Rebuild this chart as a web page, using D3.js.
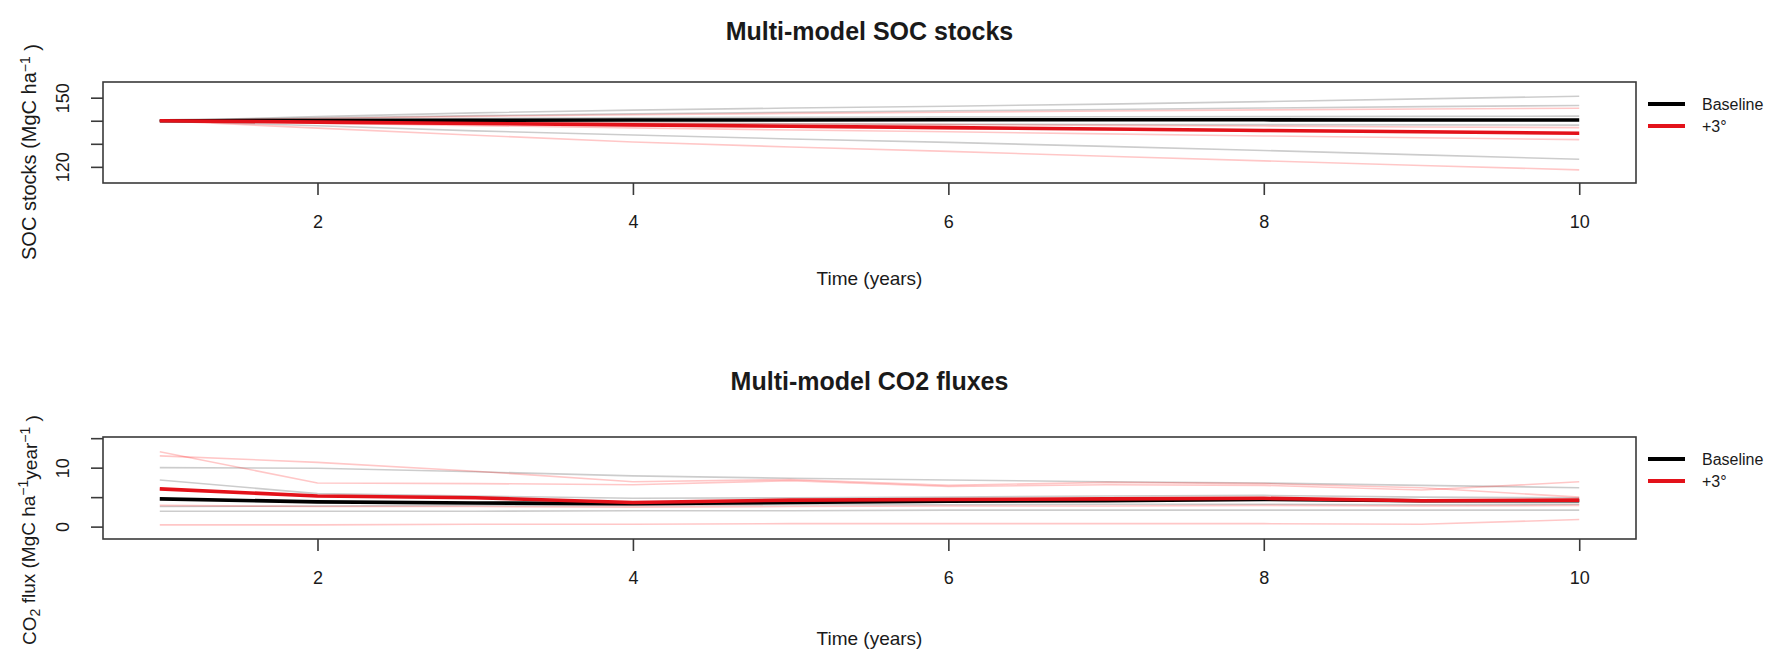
<!DOCTYPE html>
<html>
<head>
<meta charset="utf-8">
<script src="https://cdn.jsdelivr.net/npm/d3@7"></script>
<style>
body{margin:0;background:#fff}
text{font-family:"Liberation Sans",Arial,Helvetica,sans-serif;fill:#1a1a1a}
</style>
</head>
<body>
<svg id="chart" width="1773" height="652"></svg>
<script>
// years on the x axis
var years = [1,2,3,4,5,6,7,8,9,10];
var xTicks = [2,4,6,8,10];

// SOC stocks (MgC/ha), one row per model
var socTicks = [120,130,140,150];
var socTickLabels = ['120','','','150'];
var socBase1 = [140,141.8,143.4,144.6,145.5,146.3,147.2,148.3,149.5,150.6];
var socBase2 = [140,141.2,142.2,143.0,143.7,144.3,144.9,145.5,146.1,146.6];
var socBase3 = [140,140.6,141.0,141.3,141.5,141.6,141.7,141.8,141.9,142.0];
var socBase4 = [140,139.6,139.2,138.9,138.7,138.5,138.4,138.3,138.2,138.1];
var socBase5 = [140,137.8,135.6,133.8,132.1,130.6,128.9,127.1,125.2,123.3];
var socBaseMean = [140,140.1,140.2,140.3,140.3,140.4,140.4,140.4,140.3,140.3];
var socWarm1 = [140,141.0,141.9,142.6,143.2,143.7,144.2,144.7,145.1,145.4];
var socWarm2 = [140,139.7,139.3,139.0,138.6,138.3,138.0,137.7,137.3,137.0];
var socWarm3 = [140,138.9,137.9,136.9,136.0,135.2,134.3,133.4,132.6,131.8];
var socWarm4 = [140,136.8,133.7,130.8,128.6,126.7,124.6,122.6,120.6,118.7];
var socWarm5 = [140,139.3,138.6,137.9,137.2,136.6,136.0,135.4,134.9,134.4];
var socWarmMean = [140,139.4,138.8,138.2,137.6,137.0,136.4,135.8,135.2,134.6];

// CO2 fluxes (MgC/ha/year)
var co2Ticks = [0,5,10,15];
var co2TickLabels = ['0','','10',''];
var co2Base1 = [10.0,9.9,9.3,8.6,8.2,7.9,7.6,7.4,7.0,6.6];
var co2Base2 = [7.9,5.6,5.2,4.8,4.9,5.0,5.2,5.3,5.0,4.9];
var co2Base3 = [3.4,3.5,3.6,3.6,3.7,3.7,3.8,3.8,3.7,3.8];
var co2Base4 = [2.6,2.6,2.6,2.7,2.7,2.8,2.8,2.8,2.8,2.8];
var co2BaseMean = [4.7,4.2,4.0,3.9,4.1,4.3,4.4,4.6,4.4,4.4];
var co2Warm1 = [12.7,7.4,7.3,7.1,7.8,6.8,7.1,7.0,6.2,7.6];
var co2Warm2 = [12.0,10.9,9.4,7.6,8.0,7.0,7.5,7.3,6.6,5.0];
var co2Warm3 = [6.4,5.1,4.8,4.0,4.4,4.5,4.6,4.8,4.3,4.4];
var co2Warm4 = [3.6,3.4,3.4,3.3,3.4,3.5,3.5,3.6,3.5,3.6];
var co2Warm5 = [0.3,0.3,0.4,0.4,0.5,0.5,0.5,0.5,0.4,1.2];
var co2WarmMean = [6.4,5.2,4.9,4.1,4.5,4.6,4.7,4.8,4.4,4.5];

var legendNames = ['Baseline','+3°'];

var svg = d3.select('#chart');
var left = 103, right = 1636;
var x = d3.scaleLinear().domain([0.64,10.36]).range([left,right]);

function panel(o){
	var y = d3.scaleLinear().domain(o.domain).range([o.bottom,o.top]);
	var g = svg.append('g');
	var line = d3.line().x(function(d,i){return x(years[i])}).y(function(d){return y(d)});

	g.selectAll('path.base').data(o.base).enter().append('path')
		.attr('d',line).attr('fill','none')
		.attr('stroke','rgba(0,0,0,0.2)').attr('stroke-width',1.6);
	g.selectAll('path.warm').data(o.warm).enter().append('path')
		.attr('d',line).attr('fill','none')
		.attr('stroke','rgba(255,0,0,0.22)').attr('stroke-width',1.6);
	g.append('path').attr('d',line(o.baseMean)).attr('fill','none')
		.attr('stroke','#000').attr('stroke-width',3.6);
	g.append('path').attr('d',line(o.warmMean)).attr('fill','none')
		.attr('stroke','#e3121a').attr('stroke-width',3.6);

	// box
	g.append('rect').attr('x',left).attr('y',o.top)
		.attr('width',right-left).attr('height',o.bottom-o.top)
		.attr('fill','none').attr('stroke','#3a3a3a').attr('stroke-width',1.6);

	var xa = g.append('g').attr('transform','translate(0,'+o.bottom+')')
		.call(d3.axisBottom(x).tickValues(xTicks).tickSize(12).tickSizeOuter(0).tickPadding(20));
	xa.select('.domain').remove();
	xa.selectAll('line').attr('stroke','#3a3a3a').attr('stroke-width',1.6);
	xa.selectAll('text').style('font-size','18px').attr('fill','#1a1a1a');

	var ya = g.append('g').attr('transform','translate('+left+',0)')
		.call(d3.axisLeft(y).tickValues(o.ticks).tickSize(12).tickSizeOuter(0)
			.tickFormat(function(d,i){return o.tickLabels[i]}));
	ya.select('.domain').remove();
	ya.selectAll('line').attr('stroke','#3a3a3a').attr('stroke-width',1.6);
	ya.selectAll('text').attr('x',null).attr('dy',null)
		.attr('text-anchor','middle')
		.attr('transform',function(d){return 'translate(-40,0) rotate(-90)'})
		.attr('dy','0.35em')
		.style('font-size','18px').attr('fill','#1a1a1a');

	svg.append('text').attr('x',(left+right)/2).attr('y',o.titleY)
		.attr('text-anchor','middle').style('font-size','25px').style('font-weight','bold')
		.text(o.title);
	svg.append('text').attr('x',(left+right)/2).attr('y',o.xlabY)
		.attr('text-anchor','middle').style('font-size','19px')
		.text('Time (years)');

	var yl = svg.append('text').attr('transform','translate(36,'+o.ylabY+') rotate(-90)')
		.attr('text-anchor','middle').style('font-size',o.ylabSize);
	o.ylab.forEach(function(p){
		var t = yl.append('tspan').text(p[0]);
		if (p[1]=='sup') t.attr('dy','-0.45em').style('font-size','14px');
		if (p[1]=='sub') t.attr('dy','0.3em').style('font-size','14px');
		if (p[1]=='back-sup') t.attr('dy','0.45em');
		if (p[1]=='back-sub') t.attr('dy','-0.3em');
	});

	// legend outside the box
	var lg = svg.append('g');
	[['#000',o.legY],['#e3121a',o.legY+22]].forEach(function(e,i){
		lg.append('line').attr('x1',1648).attr('x2',1685).attr('y1',e[1]).attr('y2',e[1])
			.attr('stroke',e[0]).attr('stroke-width',4);
		lg.append('text').attr('x',1702).attr('y',e[1]).attr('dy','0.35em')
			.style('font-size','16px').attr('fill','#333').text(legendNames[i]);
	});
}

panel({
	top:82, bottom:183, domain:[113,156.8],
	ticks:socTicks, tickLabels:socTickLabels,
	base:[socBase1,socBase2,socBase3,socBase4,socBase5],
	warm:[socWarm1,socWarm2,socWarm3,socWarm4,socWarm5],
	baseMean:socBaseMean, warmMean:socWarmMean,
	title:'Multi-model SOC stocks', titleY:40, xlabY:285, ylabY:152, legY:104, ylabSize:'20px',
	ylab:[['SOC stocks (MgC ha'],['\u22121','sup'],[' )','back-sup']]
});

panel({
	top:437, bottom:539, domain:[-2.1,15.2],
	ticks:co2Ticks, tickLabels:co2TickLabels,
	base:[co2Base1,co2Base2,co2Base3,co2Base4],
	warm:[co2Warm1,co2Warm2,co2Warm3,co2Warm4,co2Warm5],
	baseMean:co2BaseMean, warmMean:co2WarmMean,
	title:'Multi-model CO2 fluxes', titleY:390, xlabY:645, ylabY:530, legY:459, ylabSize:'19px',
	ylab:[['CO'],['2','sub'],[' flux (MgC ha','back-sub'],['\u22121','sup'],['year','back-sup'],['\u22121','sup'],[' )','back-sup']]
});
</script>
</body>
</html>
